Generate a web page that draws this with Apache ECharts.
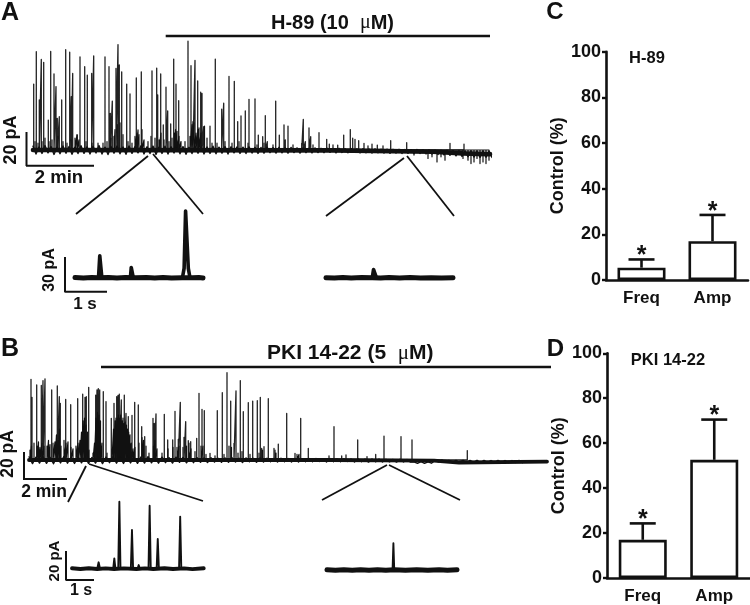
<!DOCTYPE html>
<html><head><meta charset="utf-8">
<style>html,body{margin:0;padding:0;background:#fff}#c{width:750px;height:605px}</style>
<script src="https://cdn.jsdelivr.net/npm/echarts@6/dist/echarts.min.js"></script>
</head><body><div id="c"></div>
<script>
// ---------- Data ----------
// Long recordings: [position along the sweep, current in pA]
const eventsA = [[0.7,38.8],[3.3,57.8],[6.3,29.4],[8.3,53.3],[10.7,51.6],[15.3,17.6],[17.7,58],[21,44.7],[23,37.3],[24.3,18.6],[26.3,19.6],[28.7,29.4],[32.7,59],[36.7,57.5],[38.3,31.4],[39.7,45],[44.3,8.8],[47,54.7],[51.7,49],[54.3,44],[58.7,45],[60.7,55.3],[72,54.7],[76,49],[77.3,21.6],[79.3,28.8],[83,48],[85,62],[86.3,50],[88.7,46],[93.7,38.8],[97,33],[103.3,42.4],[105,11.8],[108.3,46],[119,46.5],[123.7,48.2],[124.7,32.4],[127.7,44.7],[130.3,14.7],[133,36.9],[134.7,23],[137.7,15.3],[140.7,53.5],[143,38.8],[145.7,29],[155,64],[158,49.6],[160,16.7],[162,52.7],[164.7,40.6],[167.7,34],[169,33.3],[170.7,13.7],[177,14],[182.3,53.5],[188.7,24],[190.7,27.5],[196,43.3],[201.3,40.4],[204.7,16.7],[208,20],[212.3,23],[216,29.8],[222,30],[225.3,8.8],[229.7,7.8],[232.3,20.2],[234.3,4.9],[242.7,28.8],[246.3,8.8],[251,14.7],[252.3,5.9],[255,14.1],[268.7,3.9],[270.3,18],[272.3,4.9],[276,13],[277.7,7.8],[286,10.2],[293.7,6.3],[296.3,3.5],[304.7,2.9],[310.7,8.8],[317.3,12],[319.7,6.9],[322,6.3],[325.7,5.5],[331,3.9],[339,3.5],[344.3,2.9],[357.7,5.5],[373.7,4.3],[417,3.9],[431,3.5]];
const smallA = [[2,5],[5,4],[9,5],[12,7],[16,5],[19,6],[25,8],[30,5],[34,4],[38,6],[42,7],[44,9],[46,6],[53,5],[59,4],[65,4],[70,4],[74,5],[78,7],[81,8],[82,12],[84.3,15],[87,16],[90,9],[95,5],[99,4],[102,8],[104,10],[106,9],[109,12],[111,6],[115,5],[118,8],[122,7],[126,6],[128,10],[131,6],[136,5],[139,7],[141.5,10],[142.5,12],[144,11],[146,8],[148,5],[152,5],[157,8],[159,15],[161,16],[163,10],[165,12],[166,13],[168,10],[171.5,14],[174,7],[179,4],[184,4],[192,5],[199,4],[206,5],[215,4],[224,3],[231,4],[240,3],[260,3],[280,3],[300,3],[335,2.5],[350,2.5],[381,-3],[395,-5],[399,-4],[404,-7],[408,-4],[412,-6],[430,-5],[435,-6],[438,-8],[441,-7],[444,-5],[447,-8],[450,-7],[453,-8],[456,-6]];
const driftAPos = [0,300,340,400,430,457];
const driftAVal = [0,-0.2,-0.5,-1,-2,-2.4];
const fuzzA = [2.2,-2.4,1.8,-2.0,2.6,-1.7,2.0,-2.6,1.6,-2.2,2.4,-1.9,2.1,-2.5,1.7,-2.1,2.5,-2.0,1.9,-2.3,2.2,-1.8,2.6,-2.4,1.7,-2.7,2.1,-1.9,2.3,-2.2,1.8,-2.5,2.4,-2.0,2.0,-1.7,2.5,-2.3,1.9,-2.1,2.3,-2.6,1.7,-2.0,2.2,-2.4,1.9,-1.8,2.5,-2.2,2.0,-2.5,1.6,-2.1,2.3,-1.9,2.1,-2.3,1.8,-2.0,2.2,-2.2,1.7,-1.9,2.0,-2.4,1.9,-1.7,1.8,-2.0,1.7,-2.1,1.9,-1.8,1.6,-2.0,1.5,-1.9,1.7,-1.6,1.4,-1.8,1.6,-1.7,1.3,-1.9,1.5,-1.5,1.2,-1.8,1.3,-1.6,1.1,-1.7,1.2,-1.5,1.0,-1.6,1.1,-1.4,0.9,-1.7,1.0,-1.5,0.8,-1.6,0.9,-1.4,0.7,-1.7,0.8,-1.6,0.6,-1.8,0.7,-1.6,0.5,-1.8,0.5,-1.9,0.4,-1.8,0.4,-2.0,0.3,-1.9,0.2,-2.1,0.3,-2.0,0.1,-2.3,0.0,-2.4,-0.1,-2.6,-0.2,-2.9,-0.2,-3.1,-0.4,-3.4,-0.3,-3.8,-0.4,-4.0,-0.5,-4.2,-0.6,-4.4,-0.5,-4.3,-0.6,-4.4,-0.7,-4.5,-0.8];

const eventsB = [[2,57.6],[3,44.8],[7.7,53.6],[12.3,53.3],[14,56.7],[16,58],[22.7,50],[28.3,52.9],[30.3,45.2],[31.3,40.5],[36.7,43.3],[41.7,39.5],[48.7,43.8],[53.7,47],[56,44.8],[57.3,45.2],[59.7,51.9],[66.7,46.4],[68,50],[69.3,51],[70.7,50],[74.3,48.8],[77,41.7],[82.3,29.8],[85,40.5],[87.7,45.2],[89,46.2],[90.3,47.1],[92.3,42.9],[95.3,46.4],[97,33.3],[99.3,31],[103,31.9],[105.7,41.2],[109.3,39.3],[112.7,23.8],[115.7,16.7],[124,29.8],[125.3,26.2],[127,32.9],[135.3,32.6],[138.7,14.3],[143.7,14.3],[146,34.8],[149.3,14.8],[151.3,41.2],[155,16.2],[156.7,27.4],[159.3,13.8],[161.7,13.1],[167.7,15.5],[170,47.6],[173,36.2],[175.3,35.2],[181,4.8],[188.3,35.2],[193.3,48.1],[198,62.4],[201.7,42.1],[205,11.9],[207,49.3],[211.3,56.7],[214.3,34.5],[219.3,41],[223.7,42.1],[228.3,42.4],[231.3,44.8],[232.7,8.3],[235,9.5],[239.3,43.8],[245,8.3],[249.3,11.4],[257.7,33.3],[266,4.8],[271.7,29.8],[279.3,8.3],[305,23.8],[312.7,2.9],[317,3.6],[328.7,14.3],[346.7,4],[355,17.1],[372,16.7],[383,14.3],[438.3,6.7]];
const smallB = [[1,7],[2.5,10],[5,12],[8,10],[9.5,13],[11,9],[13,12],[15,10],[18,10],[19.5,14],[21,11],[24,12],[26,13],[27.5,18],[29,14],[30.5,22],[32,10],[35,14],[37,12],[39,13],[42,9],[44,8],[47,10],[49,12],[51,14],[52.5,20],[54,28],[55.5,30],[57,25],[58.5,20],[60,7],[64,5],[65.5,12],[67,30],[68.5,34],[70,32],[71.5,28],[73,12],[78,5],[83,8],[84.5,22],[86,28],[87,30],[88.5,30],[89.5,32],[90.7,30],[91.7,32],[93,28],[94,30],[95,26],[96,27],[97.5,25],[98.5,22],[99.7,20],[101,18],[102.3,12],[104,8],[106,9],[110,12],[113,16],[114.5,14],[117,10],[120,5],[124.5,10],[126,14],[128,8],[133,5],[139,8],[144,9],[148,9],[150,10],[154,9],[157.5,10],[160,12],[162,8],[166,6],[172,10],[174,10],[177,4],[186,3],[195,4],[200,10],[202.5,9],[209,5],[213,6],[221,4],[230,5],[233.5,7],[246,7],[247,5],[268,4],[270,4],[300,3],[338,2.5]];
const driftBPos = [0,300,405,407,430,432,518];
const driftBVal = [0,0,-0.5,-1.8,-1.8,-0.7,-1.1];
const fuzzB = [2.3,-2.6,2.0,-2.2,2.5,-2.4,1.9,-2.7,2.4,-2.1,2.6,-2.3,2.0,-2.5,2.2,-2.0,2.6,-2.4,1.8,-2.2,2.3,-2.6,2.1,-1.9,2.4,-2.3,2.0,-2.5,2.5,-2.1,1.9,-2.4,2.2,-2.2,2.4,-2.0,1.8,-2.3,2.1,-1.9,1.7,-2.2,2.0,-1.7,1.8,-2.0,1.5,-1.9,1.7,-1.6,1.4,-1.8,1.6,-1.5,1.3,-1.7,1.5,-1.6,1.6,-1.4,1.3,-1.8,1.5,-1.3,1.2,-1.6,1.4,-1.5,1.2,-1.3,1.0,-1.5,1.3,-1.2,1.1,-1.4,1.0,-1.5,0.9,-1.2,1.1,-1.3,1.0,-1.1,0.8,-1.4,1.0,-1.2,0.8,-1.3,0.9,-1.1,0.7,-1.4,0.8,-1.2,0.6,-1.5,0.7,-1.3,0.6,-1.4,0.5,-1.3,0.4,-1.5,0.5,-1.4,0.3,-1.5,-1.3,-2.4,-1.2,-2.4,-1.3,-2.3,-0.4,-1.4,-0.1,-1.5,-0.2,-1.6,-0.3,-1.5,-0.2,-1.7,-0.3,-1.6,-0.2,-1.8,-0.3,-1.7,-0.4,-1.9,-0.3,-1.8,-0.4,-1.9,-0.4,-1.8,-0.3,-1.9];

// Expanded sweeps: [time in s, current in pA]
const insetA1Base = [[0,0.2],[0.2,-0.3],[0.4,0.2],[0.55,0],[0.8,0.3],[1,-0.2],[1.2,0.2],[1.45,0],[1.7,0.2],[1.9,-0.2],[2.1,0.2],[2.3,-0.2],[2.55,0.1],[2.8,0],[2.95,0.2],[3.05,-0.2]];
const insetA1Spike = [[0.56,0],[0.59,18.8],[0.61,18.8],[0.64,0],[1.32,0],[1.34,8.8],[1.36,8.8],[1.39,0],[2.56,0],[2.6,8],[2.635,57],[2.665,57],[2.7,8],[2.74,0]];
const insetA2Base = [[0,0.1],[0.2,-0.2],[0.4,0.2],[0.6,-0.2],[0.85,0.2],[1.1,0],[1.3,-0.2],[1.5,0.2],[1.75,-0.2],[2,0.2],[2.25,-0.2],[2.5,0.1],[2.75,-0.2],[3.02,0.1]];
const insetA2Spike = [[1.1,0],[1.13,7.1],[1.17,7.1],[1.2,0]];
const insetB1Base = [[0,0.3],[0.3,-0.2],[0.6,0.3],[0.9,-0.2],[1.2,0.2],[1.5,-0.2],[1.85,0.2],[2.3,-0.2],[2.6,0.2],[2.9,-0.2],[3.3,0.3],[3.6,-0.2],[4,0.2],[4.3,-0.3],[4.7,0.3]];
const insetB1Spike = [[0.9,0],[0.95,4.4],[1,0],[1.47,0],[1.51,7.1],[1.55,0],[1.65,0],[1.69,46.2],[1.73,0],[2.1,0],[2.14,26.7],[2.18,0],[2.34,0],[2.38,2.5],[2.42,0],[2.73,0],[2.77,43.4],[2.81,0],[3.02,0],[3.06,20.5],[3.1,0],[3.82,0],[3.86,35.9],[3.9,0]];
const insetB2Base = [[0,0.2],[0.3,-0.2],[0.6,0.2],[0.9,-0.2],[1.2,0.2],[1.5,-0.2],[1.8,0.2],[2.1,-0.2],[2.4,0.2],[2.8,-0.2],[3.2,0.2],[3.6,-0.2],[4,0.2],[4.3,-0.1],[4.64,0.2]];
const insetB2Spike = [[2.34,0],[2.37,18.4],[2.4,0]];

// Summary bars (percent of control)
const barCategories = ['Freq','Amp'];
const tickValues = [0,20,40,60,80,100];
const h89Mean = [5.4,17];
const h89Err = [9,28.5];
const pkiMean = [17,52.6];
const pkiErr = [24.3,70.5];

// ---------- Helpers ----------
const FONT = '"Liberation Sans", Arial, sans-serif';
const spikes = (list) => list.slice().sort((a,b)=>a[0]-b[0]).flatMap(e=>[[e[0],0],[e[0],e[1]],[e[0],0]]);
const zipPairs = (a,b) => a.map((v,i)=>[v,b[i]]);
const grids=[],xAxes=[],yAxes=[],series=[];
function trace(box,xmax,ymin,ymax,layers){
  const i=grids.length;
  grids.push({left:box[0],top:box[1],width:box[2],height:box[3]});
  xAxes.push({type:'value',gridIndex:i,min:0,max:xmax,show:false});
  yAxes.push({type:'value',gridIndex:i,min:ymin,max:ymax,show:false});
  layers.forEach(l=>series.push({type:'line',xAxisIndex:i,yAxisIndex:i,data:l.data,showSymbol:false,silent:true,animation:false,clip:false,
    lineStyle:{color:l.color||'#111',width:l.width,cap:'round',join:'round'}}));
}
trace([33,31,457,153],457,-20,70,[
  {data:spikes(eventsA),width:1.3,color:'#222'},
  {data:spikes(smallA),width:1.2},
  {data:fuzzA.map((v,i)=>[i*3,v]),width:1.4},
  {data:zipPairs(driftAPos,driftAVal),width:4.6}]);
trace([29,362,518,119],518,-15,70,[
  {data:spikes(eventsB),width:1.3,color:'#222'},
  {data:spikes(smallB),width:1.2},
  {data:fuzzB.map((v,i)=>[i*3.5,v]),width:1.4},
  {data:zipPairs(driftBPos,driftBVal),width:3.8}]);
trace([75,201.7,128,87.75],3.05,-10,65,[{data:insetA1Spike,width:3.6},{data:insetA1Base,width:5}]);
trace([326,201.7,127,87.75],3.02,-10,65,[{data:insetA2Spike,width:3.6},{data:insetA2Base,width:5}]);
trace([72,496.2,132,87],4.71,-10,50,[{data:insetB1Spike,width:1.9},{data:insetB1Base,width:3.8}]);
trace([327,497.5,130,87],4.64,-10,50,[{data:insetB2Spike,width:1.9},{data:insetB2Base,width:5}]);

function bars(box,mean,err){
  const i=grids.length;
  grids.push({left:box[0],top:box[1],width:box[2],height:box[3]});
  xAxes.push({type:'category',gridIndex:i,data:barCategories,
    axisLine:{onZero:false,lineStyle:{color:'#111',width:2.6}},axisTick:{show:false},
    axisLabel:{color:'#111',fontFamily:FONT,fontWeight:'bold',fontSize:17,margin:10}});
  yAxes.push({type:'value',gridIndex:i,min:0,max:100,interval:20,splitLine:{show:false},
    axisLine:{show:true,lineStyle:{color:'#111',width:2.6}},
    axisTick:{show:true,length:4,lineStyle:{color:'#111',width:2.4}},
    axisLabel:{color:'#111',fontFamily:FONT,fontWeight:'bold',fontSize:18,margin:5,customValues:tickValues},
    name:'Control (%)',nameLocation:'middle',nameGap:38,nameRotate:90,
    nameTextStyle:{color:'#111',fontFamily:FONT,fontWeight:'bold',fontSize:18}});
  series.push({type:'bar',xAxisIndex:i,yAxisIndex:i,data:mean,barWidth:48,animation:false,silent:true,
    itemStyle:{color:'#fff',borderColor:'#111',borderWidth:2.6}});
  series.push({type:'custom',xAxisIndex:i,yAxisIndex:i,animation:false,silent:true,z:5,
    data:mean.map((m,k)=>[k,m,err[k]]),
    renderItem:(p,api)=>{
      const a=api.coord([api.value(0),api.value(1)]),b=api.coord([api.value(0),api.value(2)]);
      const st={stroke:'#111',lineWidth:2.6};
      return {type:'group',children:[
        {type:'line',shape:{x1:a[0],y1:a[1],x2:b[0],y2:b[1]},style:st},
        {type:'line',shape:{x1:b[0]-13,y1:b[1],x2:b[0]+13,y2:b[1]},style:st},
        {type:'text',x:b[0],y:b[1]-3,style:{text:'*',fill:'#111',font:'bold 25px '+FONT,textAlign:'center',textVerticalAlign:'middle'}}
      ]};
    }});
}
bars([606,51.7,142,228.3],h89Mean,h89Err);
bars([607,353.3,143,228.4],pkiMean,pkiErr);

// ---------- Annotations ----------
const seg=(x1,y1,x2,y2,w)=>({type:'line',silent:true,shape:{x1,y1,x2,y2},style:{stroke:'#111',lineWidth:w||1.8}});
const txt=(t,x,y,size,rot,align)=>({type:'text',silent:true,x,y,rotation:rot?Math.PI/2:0,
  style:{text:t,fill:'#111',font:'bold '+size+'px '+FONT,textAlign:align||'center',textVerticalAlign:'middle'}});
const drug=(a,b,x,y,s)=>({type:'text',silent:true,x,y,style:{text:'{a|'+a+'}{m|μ}{a|'+b+'}',textAlign:'left',textVerticalAlign:'middle',
  rich:{a:{font:'bold '+s+'px '+FONT,fill:'#111'},m:{font:s+'px "Liberation Serif", serif',fill:'#111'}}}});
const graphic=[
  seg(165.7,36,490,36,2.4),seg(101,367,551,367,2.4),
  drug('H-89 (10  ','M)',271,23,20),drug('PKI 14-22 (5  ','M)',267,353,21),
  seg(148,156,76,214),seg(153,154,203,214),seg(404,158,326,216),seg(407,156,454,216),
  seg(86,466,68,502),seg(89,464,203,501),seg(387,465,322,500),seg(389,465,460,500),
  seg(26.5,132,26.5,166,2),seg(26,165.7,94,165.7,2),
  seg(24,452,24,480,2),seg(23.5,479,67,479,2),
  seg(65,257,65,292,2),seg(64.5,291.7,107,291.7,2),
  seg(66,551,66,580,2),seg(65.5,580,94,580,2),
  txt('A',10,13,25),txt('B',10,349,25),txt('C',555,12,24),txt('D',555.5,349,24),
  txt('20 pA',11,140,18,true),txt('2 min',59,178,18.5),
  txt('20 pA',8,454,17.5,true),txt('2 min',44,492,17.5),
  txt('30 pA',50,270,16,true),txt('1 s',85,304,17),
  txt('20 pA',55,561,15,true),txt('1 s',81,591,16),
  txt('H-89',647,58,16.5),txt('PKI 14-22',668,360,16.5)
];
const chart=echarts.init(document.getElementById('c'),null,{renderer:'canvas'});
chart.setOption({animation:false,backgroundColor:'#fff',grid:grids,xAxis:xAxes,yAxis:yAxes,series,graphic});
</script></body></html>
